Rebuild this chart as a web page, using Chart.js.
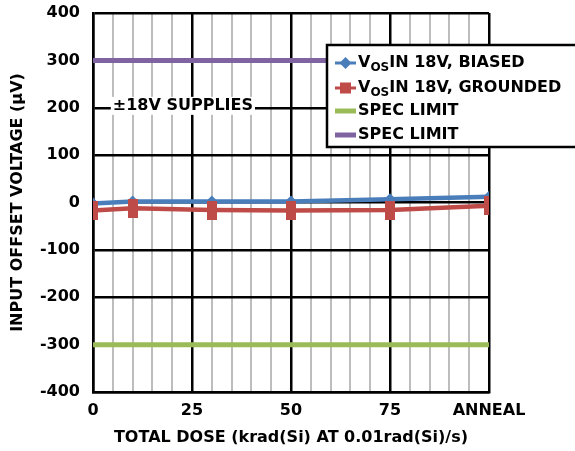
<!DOCTYPE html>
<html><head><meta charset="utf-8">
<script src="https://cdn.jsdelivr.net/npm/chart.js@4"></script>
<style>html,body{margin:0;padding:0;background:#fff}#wrap{width:575px;height:451px}</style>
</head><body><div id="wrap"><canvas id="c" width="575" height="451"></canvas></div>
<script>
const doseX = [0, 10, 30, 50, 75, 100];
const biased = [-2, 2, 2, 2, 7, 12];
const grounded = [-17, -12, -16, -17, -16, -7];
const specX = [0, 100];
const specLow = [-300, -300];
const specHigh = [300, 300];
const xTickLabels = {0: '0', 25: '25', 50: '50', 75: '75', 100: 'ANNEAL'};
const yTicks = [-400, -300, -200, -100, 0, 100, 200, 300, 400];
const legendItems = [
  {main: 'V', sub: 'OS', rest: 'IN 18V, BIASED', color: '#4a7ebb', marker: 'diamond'},
  {main: 'V', sub: 'OS', rest: 'IN 18V, GROUNDED', color: '#be4b48', marker: 'square'},
  {main: 'SPEC LIMIT', sub: '', rest: '', color: '#9bbb59', marker: 'none'},
  {main: 'SPEC LIMIT', sub: '', rest: '', color: '#8064a2', marker: 'none'}
];
const FONT = '"DejaVu Sans", sans-serif';

const pts = (xs, ys) => xs.map((x, i) => ({x: x, y: ys[i]}));

// tall rectangular marker for the grounded series
const redMarker = document.createElement('canvas');
redMarker.width = 10; redMarker.height = 19;
(function(){ const g = redMarker.getContext('2d'); g.fillStyle = '#be4b48'; g.fillRect(0, 0, 10, 19); })();

const overlay = {
  id: 'overlay',
  afterDraw(chart) {
    const ctx = chart.ctx;
    const xs = chart.scales.x, ys = chart.scales.y;
    ctx.save();
    ctx.font = 'bold 16px ' + FONT;
    const txt = '±18V SUPPLIES';
    const tw = ctx.measureText(txt).width;
    const tx = xs.getPixelForValue(5), ty = ys.getPixelForValue(204);
    ctx.fillStyle = '#fff';
    ctx.fillRect(tx - 2, ty - 9, tw + 4, 18);
    ctx.fillStyle = '#000';
    ctx.textBaseline = 'middle';
    ctx.fillText(txt, tx, ty);
    // legend
    const lx = 327, ly = 45, lw = 260, lh = 102;
    ctx.fillStyle = '#fff';
    ctx.fillRect(lx, ly, lw, lh);
    ctx.lineWidth = 2.5;
    ctx.strokeStyle = '#000';
    ctx.strokeRect(lx, ly, lw, lh);
    const rows = [63, 88, 111, 135];
    legendItems.forEach((it, i) => {
      const y = rows[i];
      ctx.strokeStyle = it.color;
      ctx.lineWidth = it.marker === 'none' ? 5 : 3;
      ctx.beginPath(); ctx.moveTo(335, y); ctx.lineTo(356, y); ctx.stroke();
      ctx.fillStyle = it.color;
      if (it.marker === 'diamond') {
        ctx.beginPath(); ctx.moveTo(345.5, y - 6); ctx.lineTo(351.5, y); ctx.lineTo(345.5, y + 6); ctx.lineTo(339.5, y); ctx.closePath(); ctx.fill();
      } else if (it.marker === 'square') {
        ctx.fillRect(340, y - 5.5, 11, 11);
      }
      ctx.fillStyle = '#000';
      ctx.textBaseline = 'middle';
      ctx.font = 'bold 16px ' + FONT;
      let x = 358;
      ctx.fillText(it.main, x, y);
      x += ctx.measureText(it.main).width;
      if (it.sub) {
        ctx.font = 'bold 12px ' + FONT;
        ctx.fillText(it.sub, x, y + 5);
        x += ctx.measureText(it.sub).width;
        ctx.font = 'bold 16px ' + FONT;
        ctx.fillText(it.rest, x, y);
      }
    });
    ctx.restore();
  }
};

new Chart(document.getElementById('c'), {
  type: 'scatter',
  data: {
    datasets: [
      {label: 'VOS IN 18V, BIASED', data: pts(doseX, biased), showLine: true, borderColor: '#4a7ebb', backgroundColor: '#4a7ebb', borderWidth: 4.5, pointStyle: 'rectRot', pointRadius: 6, pointBorderWidth: 0, order: 1},
      {label: 'VOS IN 18V, GROUNDED', data: pts(doseX, grounded), showLine: true, borderColor: '#be4b48', backgroundColor: '#be4b48', borderWidth: 4.5, pointStyle: redMarker, pointRadius: 7, pointBorderWidth: 0, order: 0},
      {label: 'SPEC LIMIT', data: pts(specX, specLow), showLine: true, borderColor: '#9bbb59', backgroundColor: '#9bbb59', borderWidth: 5, pointRadius: 0, order: 2},
      {label: 'SPEC LIMIT', data: pts(specX, specHigh), showLine: true, borderColor: '#8064a2', backgroundColor: '#8064a2', borderWidth: 5, pointRadius: 0, order: 2}
    ]
  },
  options: {
    responsive: false,
    animation: false,
    layout: {padding: {top: 13, right: 86, left: 0, bottom: 0}},
    plugins: {legend: {display: false}, tooltip: {enabled: false}},
    scales: {
      x: {
        type: 'linear', min: 0, max: 100,
        afterBuildTicks(s) { s.ticks = []; for (let v = 0; v <= 100; v += 5) s.ticks.push({value: v}); },
        afterFit(s) { s.height = 59; s.paddingLeft = 0; s.paddingRight = 0; },
        ticks: {autoSkip: false, maxRotation: 0, padding: 9, color: '#000', font: {family: FONT, size: 16, weight: 'bold'},
          callback: v => (v in xTickLabels ? xTickLabels[v] : '')},
        grid: {drawTicks: false, lineWidth: c => (c.tick && c.tick.value % 25 === 0 ? 2.5 : 2),
          color: c => (c.tick && c.tick.value % 25 === 0 ? '#000' : '#bdbdbd')},
        border: {display: true, color: '#000', width: 2.5},
        title: {display: true, text: 'TOTAL DOSE (krad(Si) AT 0.01rad(Si)/s)', color: '#000', font: {family: FONT, size: 16, weight: 'bold'}, padding: {top: 4}}
      },
      y: {
        min: -400, max: 400,
        afterBuildTicks(s) { s.ticks = yTicks.map(v => ({value: v})); },
        afterFit(s) { s.width = 93; s.paddingTop = 0; s.paddingBottom = 0; },
        ticks: {padding: 13, color: '#000', font: {family: FONT, size: 16, weight: 'bold'}},
        grid: {drawTicks: false, color: '#000', lineWidth: 2.5},
        border: {display: true, color: '#000', width: 2.5},
        title: {display: true, text: 'INPUT OFFSET VOLTAGE (µV)', color: '#000', font: {family: FONT, size: 16, weight: 'bold'}, padding: {top: 8, bottom: 4}}
      }
    }
  },
  plugins: [overlay]
});
</script></body></html>
